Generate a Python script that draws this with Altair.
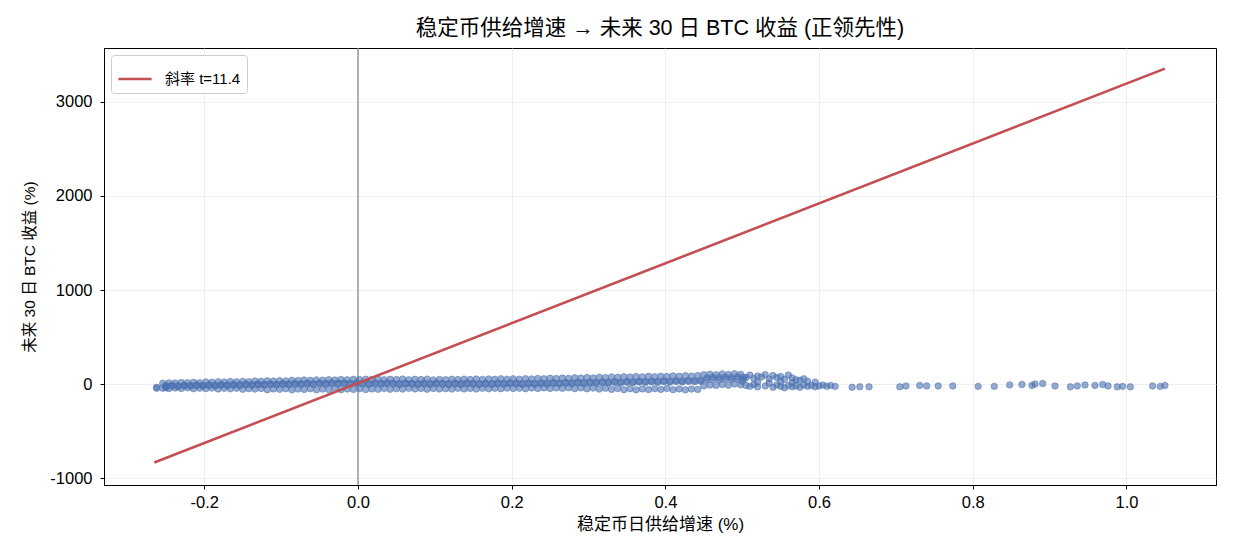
import altair as alt
import pandas as pd

# dense band: two interleaved x grids, several rows of y values
band_x = [
    -0.262, -0.254, -0.246, -0.238, -0.230, -0.222, -0.214, -0.206,
    -0.198, -0.190, -0.182, -0.174, -0.166, -0.158, -0.150, -0.142,
    -0.134, -0.126, -0.118, -0.110, -0.102, -0.094, -0.086, -0.078,
    -0.070, -0.062, -0.054, -0.046, -0.038, -0.030, -0.022, -0.014,
    -0.006, 0.002, 0.010, 0.018, 0.026, 0.034, 0.042, 0.050,
    0.058, 0.066, 0.074, 0.082, 0.090, 0.098, 0.106, 0.114,
    0.122, 0.130, 0.138, 0.146, 0.154, 0.162, 0.170, 0.178,
    0.186, 0.194, 0.202, 0.210, 0.218, 0.226, 0.234, 0.242,
    0.250, 0.258, 0.266, 0.274, 0.282, 0.290, 0.298, 0.306,
    0.314, 0.322, 0.330, 0.338, 0.346, 0.354, 0.362, 0.370,
    0.378, 0.386, 0.394, 0.402, 0.410, 0.418, 0.426, 0.434,
    0.442, 0.450, 0.458, 0.466, 0.474, 0.482, 0.490, 0.498,
]
band_x2 = [
    -0.250, -0.250, -0.242, -0.234, -0.226, -0.218, -0.210, -0.202,
    -0.194, -0.186, -0.178, -0.170, -0.162, -0.154, -0.146, -0.138,
    -0.130, -0.122, -0.114, -0.106, -0.098, -0.090, -0.082, -0.074,
    -0.066, -0.058, -0.050, -0.042, -0.034, -0.026, -0.018, -0.010,
    -0.002, 0.006, 0.014, 0.022, 0.030, 0.038, 0.046, 0.054,
    0.062, 0.070, 0.078, 0.086, 0.094, 0.102, 0.110, 0.118,
    0.126, 0.134, 0.142, 0.150, 0.158, 0.166, 0.174, 0.182,
    0.190, 0.198, 0.206, 0.214, 0.222, 0.230, 0.238, 0.246,
    0.254, 0.262, 0.270, 0.278, 0.286, 0.294, 0.302, 0.310,
    0.318, 0.326, 0.334, 0.342, 0.350, 0.358, 0.366, 0.374,
    0.382, 0.390, 0.398, 0.406, 0.414, 0.422, 0.430, 0.438,
    0.446, 0.454, 0.462, 0.470, 0.478, 0.486, 0.494, 0.502,
]
band_hi = [
    -35, 8, 12, 10, 16, 14, 18, 14,
    22, 19, 24, 21, 26, 23, 28, 25,
    32, 29, 34, 31, 36, 33, 40, 37,
    42, 39, 44, 41, 46, 43, 48, 45,
    50, 47, 52, 49, 54, 46, 51, 48,
    53, 45, 50, 47, 52, 44, 49, 46,
    51, 47, 52, 48, 53, 49, 54, 50,
    55, 51, 56, 52, 57, 54, 59, 56,
    62, 58, 64, 60, 66, 63, 69, 65,
    72, 68, 76, 72, 78, 74, 80, 76,
    82, 78, 84, 80, 86, 82, 88, 84,
    90, 100, 105, 98, 108, 102, 110, 104,
]
band_mid = [
    -40, -15, -12, -18, -10, -14, -8, -12,
    -6, -10, -4, -8, -2, -6, 0, -4,
    2, -2, 4, 0, 6, 2, 8, 4,
    10, 6, 12, 8, 14, 10, 12, 8,
    14, 10, 6, 12, 8, 14, 10, 6,
    12, 8, 4, 10, 6, 12, 8, 4,
    10, 6, 12, 8, 4, 10, 6, 12,
    8, 14, 10, 6, 12, 8, 14, 10,
    16, 12, 18, 14, 20, 16, 22, 18,
    24, 20, 26, 22, 28, 24, 30, 26,
    32, 28, 34, 30, 36, 32, 38, 34,
    40, 44, 50, 46, 52, 48, 54, 50,
]
band_mid2 = [
    -28, -25, -22, -28, -20, -24, -18, -22,
    -16, -20, -14, -18, -12, -16, -10, -14,
    -8, -12, -6, -10, -4, -8, -2, -6,
    0, -4, 2, -2, 4, 0, 2, -2,
    4, 0, -4, 2, -2, 4, 0, -4,
    2, -2, -6, 0, -4, 2, -2, -6,
    0, -4, 2, -2, -6, 0, -4, 2,
    -2, 4, 0, -4, 2, -2, 4, 0,
    6, 2, 8, 4, 10, 6, 12, 8,
    14, 10, 16, 12, 18, 14, 20, 16,
    22, 18, 24, 20, 26, 22, 28, 24,
    30, 65, 72, 68, 75, 70, 78, 72,
]
band_lo = [
    -45, -44, -48, -42, -47, -40, -50, -44,
    -49, -43, -53, -46, -51, -45, -56, -49,
    -54, -47, -60, -52, -56, -49, -62, -53,
    -57, -50, -62, -54, -58, -51, -60, -53,
    -57, -50, -59, -52, -56, -48, -55, -50,
    -54, -46, -52, -48, -55, -47, -53, -49,
    -54, -46, -52, -47, -53, -45, -51, -46,
    -50, -43, -48, -44, -50, -42, -47, -41,
    -47, -41, -46, -39, -49, -41, -51, -43,
    -54, -46, -57, -48, -60, -50, -62, -52,
    -59, -50, -57, -48, -60, -52, -62, -54,
    -57, -20, -10, -15, -5, -12, 0, -8,
]

# transition cluster and sparse tail
tail_x = [
    0.505, 0.510, 0.515, 0.520, 0.525, 0.530, 0.535, 0.540, 0.545, 0.550,
    0.555, 0.560, 0.565, 0.570, 0.580, 0.505, 0.510, 0.515, 0.520, 0.530,
    0.540, 0.545, 0.550, 0.555, 0.560, 0.565, 0.570, 0.575, 0.580, 0.585,
    0.590, 0.595, 0.600, 0.605, 0.610, 0.615, 0.500, 0.520, 0.535, 0.550,
    0.565, 0.575, 0.585, 0.595,
    0.621, 0.643, 0.653, 0.665, 0.705, 0.713, 0.731, 0.740, 0.755, 0.774,
    0.807, 0.828, 0.848, 0.864, 0.877, 0.881, 0.891, 0.907, 0.927, 0.936,
    0.946, 0.959, 0.969, 0.976, 0.988, 0.995, 1.005, 1.034, 1.044, 1.050,
]
tail_y = [
    70, 95, 60, 85, 75, 100, 55, 90, 70, 80,
    50, 95, 65, 45, 55, -15, -25, -5, -30, -20,
    -35, -10, -25, -40, -15, -30, -20, -35, -10, -25,
    -15, -30, -20, -10, -25, -15, 30, 20, 10, 25,
    15, 40, 30, 20,
    -25, -35, -30, -30, -30, -20, -15, -20, -20, -20,
    -25, -25, -10, -5, -15, 0, 5, -20, -30, -20,
    -10, -15, -5, -20, -30, -25, -30, -20, -25, -15,
]

line_x = [-0.265, 1.05]
line_y = [-835, 3355]
legend_label = "斜率 t=11.4"

pts = pd.DataFrame({
    "x": band_x + band_x2 + band_x2 + band_x + tail_x,
    "y": band_hi + band_mid + band_mid2 + band_lo + tail_y,
})
line_df = pd.DataFrame({"x": line_x, "y": line_y, "s": [legend_label] * 2})

FONT = "Liberation Sans, Noto Sans CJK SC, sans-serif"

xscale = alt.Scale(domain=[-0.3305, 1.1165], nice=False, zero=False)
yscale = alt.Scale(domain=[-1074, 3574], nice=False, zero=False)

xaxis = alt.Axis(
    title="稳定币日供给增速 (%)",
    titleFontSize=17,
    labelPadding=5,
    values=[-0.2, 0.0, 0.2, 0.4, 0.6, 0.8, 1.0],
    format=".1f",
    labelExpr="replace(datum.label, '\u2212', '-')",
)
yaxis = alt.Axis(
    title="未来 30 日 BTC 收益 (%)",
    titleFontSize=15.5,
    labelPadding=8,
    values=[-1000, 0, 1000, 2000, 3000],
    format="d",
    labelExpr="replace(datum.label, '\u2212', '-')",
)

vline = alt.Chart(pd.DataFrame({"x": [0.0]})).mark_rule(
    color="#808080", strokeWidth=1.2
).encode(x=alt.X("x:Q", scale=xscale, axis=xaxis))

scatter = alt.Chart(pts).mark_circle(
    size=42, color="#4c72b0", fillOpacity=0.6,
    stroke="#4c72b0", strokeWidth=0.8, strokeOpacity=0.65
).encode(
    x=alt.X("x:Q", scale=xscale, axis=xaxis),
    y=alt.Y("y:Q", scale=yscale, axis=yaxis),
)

line = alt.Chart(line_df).mark_line(strokeWidth=2.6).encode(
    x=alt.X("x:Q", scale=xscale, axis=xaxis),
    y=alt.Y("y:Q", scale=yscale, axis=yaxis),
    color=alt.Color(
        "s:N",
        scale=alt.Scale(domain=[legend_label], range=["#c44e52"]),
        legend=alt.Legend(
            title=None,
            orient="top-left",
            offset=7,
            symbolType="stroke",
            symbolStrokeWidth=2.6,
            symbolSize=1100,
            labelFontSize=15,
            labelFont=FONT,
            labelOffset=12,
            strokeColor="#cccccc",
            fillColor="white",
            padding=6,
            cornerRadius=3,
        ),
    ),
)

chart = alt.layer(vline, scatter, line).properties(
    width=1112,
    height=437,
    title=alt.TitleParams(
        "稳定币供给增速 → 未来 30 日 BTC 收益 (正领先性)",
        font=FONT, fontSize=21.5, fontWeight="normal", offset=8,
    ),
    autosize=alt.AutoSizeParams(type="none"),
    padding={"left": 104, "top": 48, "right": 19, "bottom": 74},
).configure_view(
    stroke="black", strokeWidth=1
).configure_axis(
    labelFont=FONT, titleFont=FONT, labelFontSize=16.5,
    titleFontWeight="normal", labelColor="black", titleColor="black",
    domainColor="black", tickColor="black", tickSize=4,
    gridColor="#ebebeb", gridWidth=0.8,
).configure_axisX(titlePadding=6).configure_axisY(titlePadding=12).configure_legend(
    labelFontSize=15, labelFont=FONT, labelColor="black"
)

chart.save("out.html", embed_options={"renderer": "svg", "actions": False})
